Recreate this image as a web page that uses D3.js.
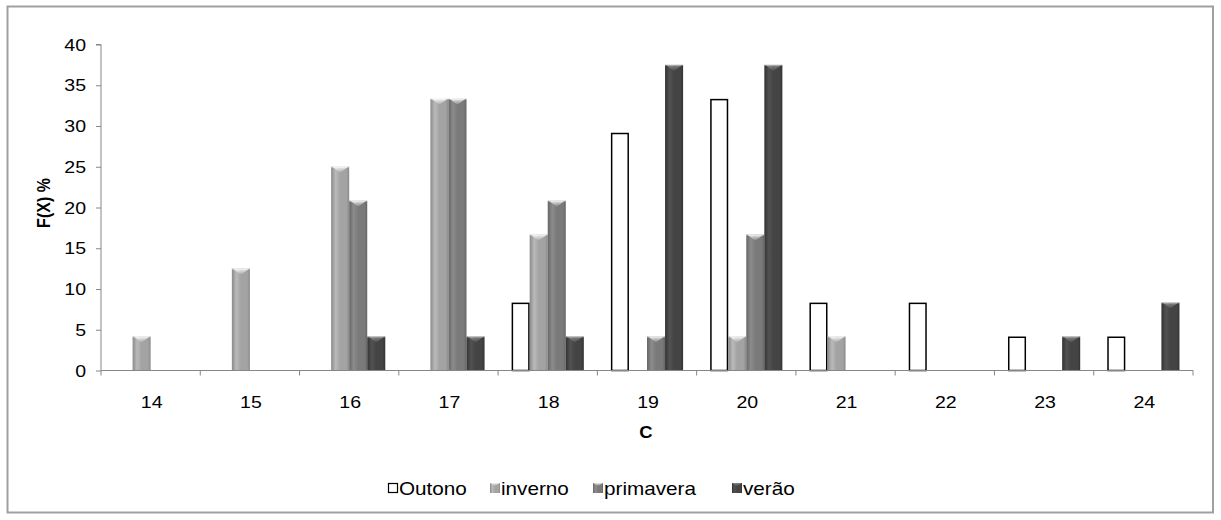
<!DOCTYPE html>
<html>
<head>
<meta charset="utf-8">
<script src="https://cdn.jsdelivr.net/npm/d3@7"></script>
<style>
  html, body { margin: 0; padding: 0; background: #fff; }
  svg { display: block; font-family: "Liberation Sans", Arial, sans-serif; }
</style>
</head>
<body>
<svg id="chart" width="1221" height="520"></svg>
<script>
// Temperature classes (°C) on the x axis
const categories = ["14", "15", "16", "17", "18", "19", "20", "21", "22", "23", "24"];
// Relative frequency F(X) % for each season
const outono    = [0, 0, 0, 0, 8.33, 29.17, 33.33, 8.33, 8.33, 4.17, 4.17];
const inverno   = [4.17, 12.5, 25, 33.33, 16.67, 0, 4.17, 4.17, 0, 0, 0];
const primavera = [0, 0, 20.83, 33.33, 20.83, 4.17, 16.67, 0, 0, 0, 0];
const verao     = [0, 0, 4.17, 4.17, 4.17, 37.5, 37.5, 0, 0, 4.17, 8.33];
const seriesNames = ["Outono", "inverno", "primavera", "verão"];
const yTicks = [0, 5, 10, 15, 20, 25, 30, 35, 40];

const seriesData = [outono, inverno, primavera, verao];
const seriesStyle = [
  { fill: "#ffffff", stroke: "#000000", flat: true },
  { base: "#a3a3a3", edge: "#8a8a8a", light: "#bababa" },
  { base: "#7a7a7a", edge: "#666666", light: "#8c8c8c" },
  { base: "#444444", edge: "#333333", light: "#525252" }
];

const FS = 17;        // label font size
const SX = 1.15;      // slight horizontal widening of the lettering

const svg = d3.select("#chart");
const margin = { left: 101, right: 1193, top: 44.5, bottom: 370.5 };

// Writes a label at (x, y) with the widened lettering
function label(parent, x, y, txt, opts = {}) {
  return parent.append("text")
    .attr("transform", `translate(${x},${y}) scale(${SX},1)`)
    .attr("text-anchor", opts.anchor || "start")
    .attr("font-size", opts.size || FS)
    .attr("font-weight", opts.bold ? "bold" : null)
    .attr("fill", "#000")
    .text(txt);
}

// Chart border
svg.append("rect")
  .attr("x", 7.5).attr("y", 6.5)
  .attr("width", 1205.5).attr("height", 506)
  .attr("fill", "#fff").attr("stroke", "#a0a0a0").attr("stroke-width", 2);

const x = d3.scaleBand().domain(categories)
  .range([margin.left, margin.right]).paddingInner(0).paddingOuter(0);
// four bars per class with 1.5 bar widths of gap split on both sides
const barW = x.bandwidth() / 5.5;
const offset = barW * 0.75;

const y = d3.scaleLinear().domain([0, 40]).range([margin.bottom, margin.top]);

// Gradients giving the bars a rounded look
const defs = svg.append("defs");
seriesStyle.forEach((s, i) => {
  if (s.flat) return;
  const g = defs.append("linearGradient").attr("id", "bar" + i)
    .attr("x1", 0).attr("x2", 1).attr("y1", 0).attr("y2", 0);
  g.append("stop").attr("offset", "0%").attr("stop-color", s.edge);
  g.append("stop").attr("offset", "25%").attr("stop-color", s.light);
  g.append("stop").attr("offset", "50%").attr("stop-color", s.base);
  g.append("stop").attr("offset", "85%").attr("stop-color", s.base);
  g.append("stop").attr("offset", "100%").attr("stop-color", s.edge);
  const t = defs.append("linearGradient").attr("id", "cap" + i)
    .attr("x1", 0).attr("x2", 0).attr("y1", 0).attr("y2", 1);
  t.append("stop").attr("offset", "0%").attr("stop-color", "#ffffff").attr("stop-opacity", i === 3 ? 0.35 : 0.85);
  t.append("stop").attr("offset", "100%").attr("stop-color", "#ffffff").attr("stop-opacity", 0.05);
});

// Bars
seriesData.forEach((vals, si) => {
  const s = seriesStyle[si];
  const g = svg.append("g");
  categories.forEach((c, ci) => {
    const v = vals[ci];
    if (!v) return;
    const x0 = x(c) + offset + si * barW;
    const y0 = y(v);
    const h = y(0) - y0;
    if (s.flat) {
      g.append("rect")
        .attr("x", x0 + 0.75).attr("y", y0 + 0.75)
        .attr("width", barW - 1.5).attr("height", h - 0.75)
        .attr("fill", s.fill).attr("stroke", s.stroke).attr("stroke-width", 1.5);
    } else {
      g.append("rect")
        .attr("x", x0).attr("y", y0)
        .attr("width", barW).attr("height", h)
        .attr("fill", `url(#bar${si})`);
      const capH = Math.min(6, h);
      g.append("path")
        .attr("d", `M${x0 + 1},${y0} L${x0 + barW - 1},${y0} L${x0 + barW / 2},${y0 + capH} Z`)
        .attr("fill", `url(#cap${si})`);
      g.append("line")
        .attr("x1", x0).attr("x2", x0 + barW)
        .attr("y1", y0 + 0.5).attr("y2", y0 + 0.5)
        .attr("stroke", "#ffffff").attr("stroke-opacity", 0.35);
    }
  });
});

// Y axis: line and ticks from the axis generator, labels drawn widened
const yAxis = d3.axisLeft(y).tickValues(yTicks).tickSize(5).tickFormat("");
const yg = svg.append("g").attr("transform", `translate(${margin.left},0)`).call(yAxis);
yg.selectAll("path, line").attr("stroke", "#868686");
yg.select(".domain").attr("d", `M-5,${margin.top}H0V${margin.bottom}`);
yTicks.forEach(t => label(svg, 86, y(t) + 6, String(t), { anchor: "end" }));

// X axis with ticks on class boundaries
const xg = svg.append("g").attr("transform", `translate(0,${margin.bottom})`);
xg.append("line").attr("x1", margin.left).attr("x2", margin.right)
  .attr("y1", 0).attr("y2", 0).attr("stroke", "#868686");
const bounds = categories.map(c => x(c)).concat([margin.right]);
xg.selectAll("line.tick").data(bounds).enter().append("line")
  .attr("class", "tick")
  .attr("x1", d => d).attr("x2", d => d)
  .attr("y1", 0).attr("y2", 5).attr("stroke", "#868686");
categories.forEach(c => label(svg, x(c) + x.bandwidth() / 2 + 1, 408, c, { anchor: "middle" }));

// Axis titles
label(svg, 646, 438, "C", { anchor: "middle", bold: true, size: 16 });
svg.append("text")
  .attr("transform", `translate(50,203) rotate(-90) scale(1,${SX})`)
  .attr("text-anchor", "middle")
  .attr("font-size", 16).attr("font-weight", "bold")
  .text("F(X) %");

// Legend
const legendItems = [
  { name: seriesNames[0], x: 388 },
  { name: seriesNames[1], x: 490 },
  { name: seriesNames[2], x: 593 },
  { name: seriesNames[3], x: 732 }
];
const lg = svg.append("g");
legendItems.forEach((it, i) => {
  const s = seriesStyle[i];
  if (s.flat) {
    lg.append("rect").attr("x", it.x + 0.5).attr("y", 483.5).attr("width", 9).attr("height", 9)
      .attr("fill", "#fff").attr("stroke", "#000").attr("stroke-width", 1.2);
  } else {
    lg.append("rect").attr("x", it.x).attr("y", 483).attr("width", 10).attr("height", 10)
      .attr("fill", `url(#bar${i})`);
    lg.append("path")
      .attr("d", `M${it.x},483 L${it.x + 10},483 L${it.x + 5},486 Z`)
      .attr("fill", `url(#cap${i})`);
  }
  label(lg, it.x + 11, 494.5, it.name, { size: 18 });
});
</script>
</body>
</html>
